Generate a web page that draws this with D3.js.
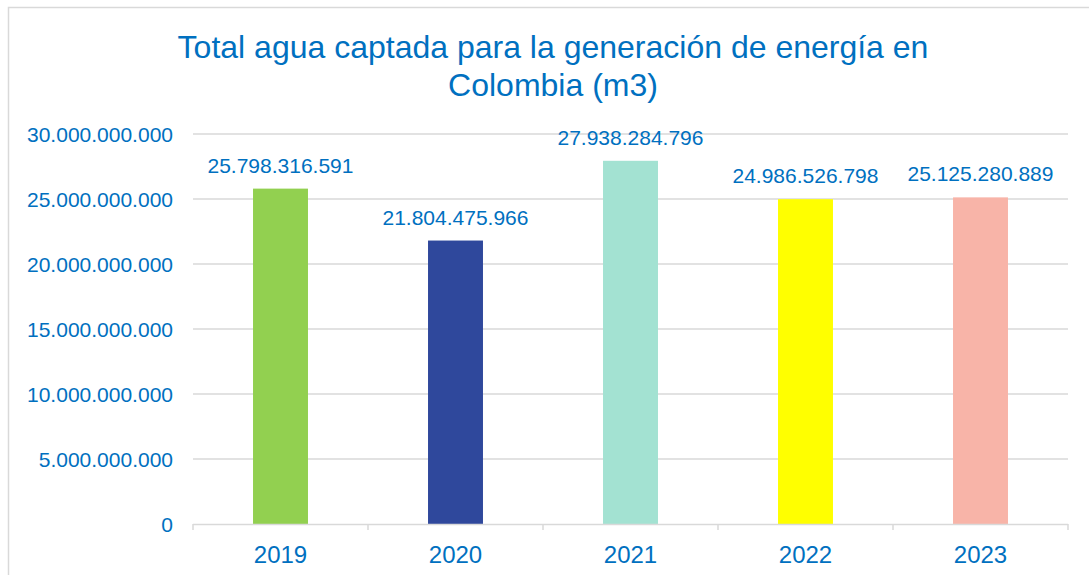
<!DOCTYPE html>
<html>
<head>
<meta charset="utf-8">
<script src="https://cdn.jsdelivr.net/npm/d3@7"></script>
<style>
  body { margin: 0; background: #fff; }
  text { font-family: "Liberation Sans", Arial, sans-serif; }
</style>
</head>
<body>
<script>
// data
var years = ["2019", "2020", "2021", "2022", "2023"];
var values = [25798316591, 21804475966, 27938284796, 24986526798, 25125280889];
var barColors = ["#92D050", "#2F489C", "#A3E2D2", "#FFFF00", "#F8B4A8"];
var yTicks = [0, 5000000000, 10000000000, 15000000000, 20000000000, 25000000000, 30000000000];
var titleLines = ["Total agua captada para la generación de energía en", "Colombia (m3)"];

var blue = "#0070C0";
var gridCol = "#D9D9D9";

var W = 1089, H = 575;
var margin = {left: 193, right: 21, top: 134, bottom: 51};

var svg = d3.select("body").append("svg")
    .attr("width", W).attr("height", H)
    .attr("viewBox", "0,0," + W + "," + H);

// chart frame
svg.append("rect")
    .attr("x", 8.5).attr("y", 7.5)
    .attr("width", W + 20).attr("height", H + 20)
    .attr("fill", "#fff")
    .attr("stroke", gridCol).attr("stroke-width", 1.5);

// dots as thousands separator
var fmt = d3.formatLocale({decimal: ",", thousands: ".", grouping: [3], currency: ["", ""]}).format(",d");

var x = d3.scaleBand().domain(years)
    .range([margin.left, W - margin.right])
    .paddingInner(0.686).paddingOuter(0.343);
var y = d3.scaleLinear().domain([0, 30000000000])
    .range([H - margin.bottom, margin.top]);

// gridlines
svg.append("g").selectAll("line").data(yTicks.slice(1)).enter().append("line")
    .attr("x1", margin.left).attr("x2", W - margin.right)
    .attr("y1", d => y(d)).attr("y2", d => y(d))
    .attr("stroke", gridCol).attr("stroke-width", 1.5);

// y axis labels
var yAxis = svg.append("g")
    .attr("transform", "translate(" + margin.left + ",0)")
    .call(d3.axisLeft(y).tickValues(yTicks).tickFormat(fmt).tickSize(0).tickPadding(20));
yAxis.select(".domain").remove();
yAxis.selectAll("text")
    .attr("fill", blue).style("font-size", "21px")
    .style("font-family", "'Liberation Sans', Arial, sans-serif")
    .attr("dy", "0.35em");

// bars
svg.append("g").selectAll("rect").data(values).enter().append("rect")
    .attr("x", (d, i) => x(years[i]))
    .attr("width", x.bandwidth())
    .attr("y", d => y(d))
    .attr("height", d => y(0) - y(d))
    .attr("fill", (d, i) => barColors[i]);

// x axis with ticks between categories
var step = x.step();
var xAxisG = svg.append("g");
xAxisG.append("line")
    .attr("x1", margin.left).attr("x2", W - margin.right)
    .attr("y1", y(0) + 0.5).attr("y2", y(0) + 0.5)
    .attr("stroke", gridCol).attr("stroke-width", 1.5);
xAxisG.selectAll("line.tick").data(d3.range(years.length + 1)).enter().append("line")
    .attr("class", "tick")
    .attr("x1", i => margin.left + i * step).attr("x2", i => margin.left + i * step)
    .attr("y1", y(0)).attr("y2", y(0) + 6)
    .attr("stroke", gridCol).attr("stroke-width", 1.5);
xAxisG.selectAll("text").data(years).enter().append("text")
    .attr("x", d => x(d) + x.bandwidth() / 2)
    .attr("y", y(0) + 38.5)
    .attr("text-anchor", "middle")
    .attr("fill", blue).style("font-size", "24px")
    .text(d => d);

// data labels
svg.append("g").selectAll("text").data(values).enter().append("text")
    .attr("x", (d, i) => x(years[i]) + x.bandwidth() / 2)
    .attr("y", d => y(d) - 16)
    .attr("text-anchor", "middle")
    .attr("fill", blue).style("font-size", "21px")
    .text(d => fmt(d));

// title
svg.append("g").selectAll("text").data(titleLines).enter().append("text")
    .attr("x", 553)
    .attr("y", (d, i) => 58 + i * 38)
    .attr("text-anchor", "middle")
    .attr("fill", blue).style("font-size", "32px")
    .text(d => d);
</script>
</body>
</html>
